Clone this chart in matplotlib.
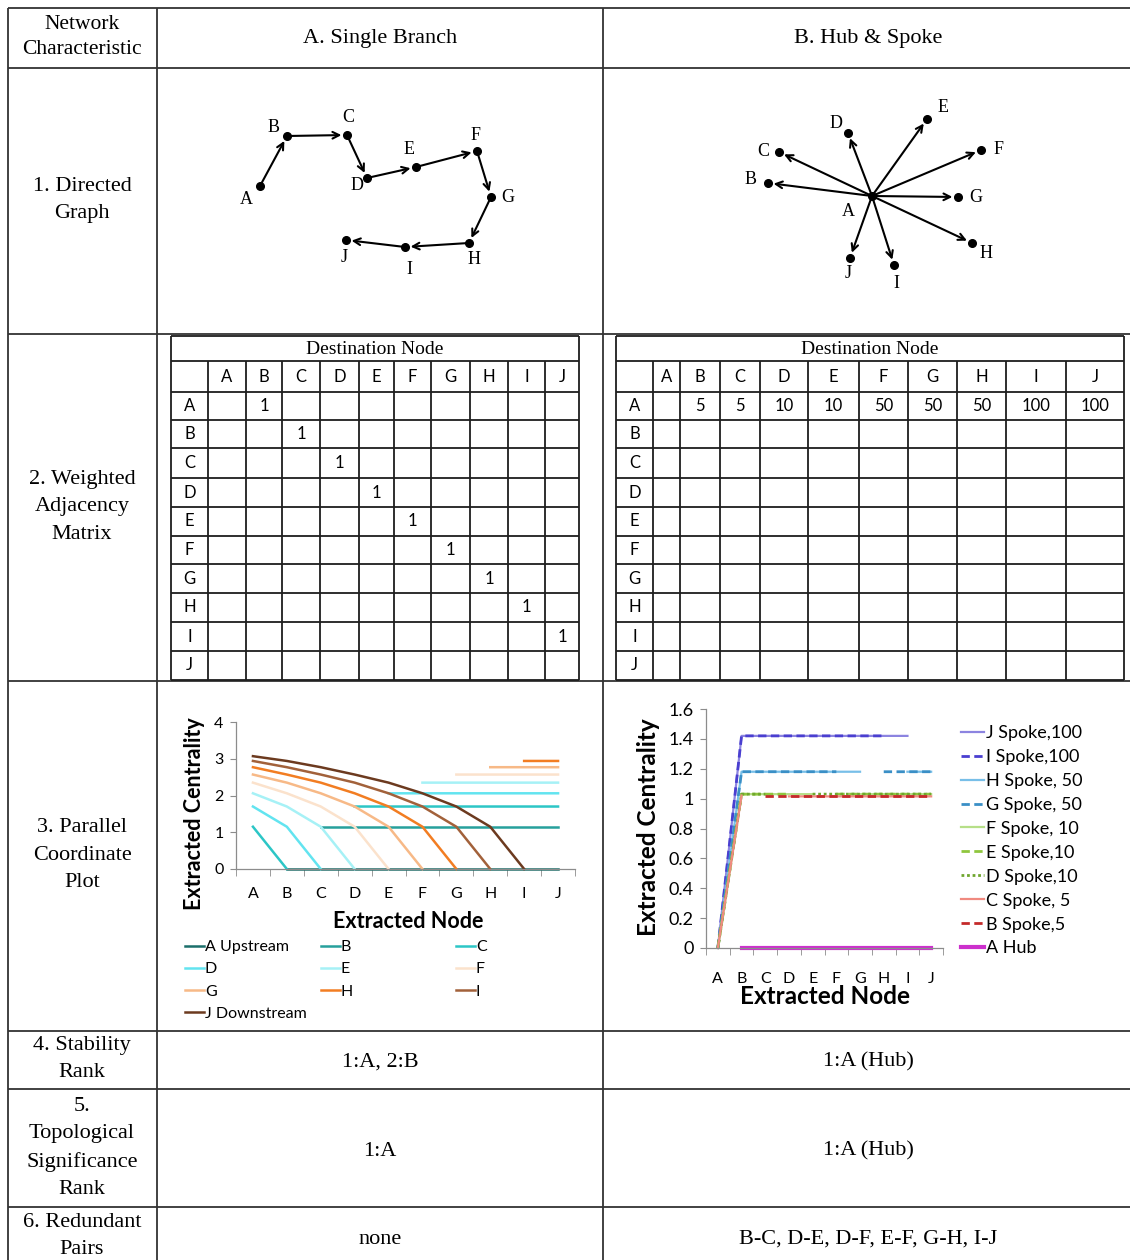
import numpy as np
import matplotlib
matplotlib.use('Agg')
import matplotlib.pyplot as plt

SERIF = 'Liberation Serif'
SANS = 'Lato'
W, H = 1130, 1260
nan = np.nan

nodes = list('ABCDEFGHIJ')

# ---- table text
row_titles = ['Network\nCharacteristic', '1. Directed\nGraph', '2. Weighted\nAdjacency\nMatrix',
              '3. Parallel\nCoordinate\nPlot', '4. Stability\nRank',
              '5.\nTopological\nSignificance\nRank', '6. Redundant\nPairs']
col_titles = ['A. Single Branch', 'B. Hub & Spoke']
stability_rank = ['1:A, 2:B', '1:A (Hub)']
topological_rank = ['1:A', '1:A (Hub)']
redundant_pairs = ['none', 'B-C, D-E, D-F, E-F, G-H, I-J']

# ---- directed graphs (node positions, pixels)
branch_x = [260, 287, 347, 367, 416, 477, 491, 469, 405, 346]
branch_y = [186, 136, 135, 178, 167, 151, 197, 243, 247, 240]
branch_lbl_x = [246, 274, 348, 357, 409, 476, 508, 474, 409, 344]
branch_lbl_y = [199, 128, 118, 185, 150, 136, 197, 259, 270, 258]
branch_edges = [('A', 'B'), ('B', 'C'), ('C', 'D'), ('D', 'E'), ('E', 'F'),
                ('F', 'G'), ('G', 'H'), ('H', 'I'), ('I', 'J')]

hub_x = [872, 768, 779, 848, 927, 981, 958, 972, 894, 850]
hub_y = [196, 183, 152, 133, 119, 150, 197, 243, 265, 258]
hub_lbl_x = [848, 751, 763, 836, 943, 999, 976, 986, 896, 848]
hub_lbl_y = [212, 180, 151, 123, 108, 150, 198, 253, 284, 274]
hub_edges = [('A', n) for n in nodes[1:]]

# ---- weighted adjacency matrices
branch_weights = [('A', 'B', 1), ('B', 'C', 1), ('C', 'D', 1), ('D', 'E', 1), ('E', 'F', 1),
                  ('F', 'G', 1), ('G', 'H', 1), ('H', 'I', 1), ('I', 'J', 1)]
hub_weights = [('A', 'B', 5), ('A', 'C', 5), ('A', 'D', 10), ('A', 'E', 10), ('A', 'F', 50),
               ('A', 'G', 50), ('A', 'H', 50), ('A', 'I', 100), ('A', 'J', 100)]

# ---- parallel coordinate plot, single branch
branch_names = ['A Upstream', 'B', 'C', 'D', 'E', 'F', 'G', 'H', 'I', 'J Downstream']
branch_colors = ['#1b6f6b', '#26a09c', '#2cc6c6', '#62e4f0', '#a6f1f6',
                 '#fbe2cc', '#f7b987', '#f27d22', '#a2613a', '#6c3a1f']
cent_A = [nan, 0, 0, 0, 0, 0, 0, 0, 0, 0]
cent_B = [0, nan, 1.15, 1.15, 1.15, 1.15, 1.15, 1.15, 1.15, 1.15]
cent_C = [1.15, 0, nan, 1.70, 1.70, 1.70, 1.70, 1.70, 1.70, 1.70]
cent_D = [1.70, 1.15, 0, nan, 2.06, 2.06, 2.06, 2.06, 2.06, 2.06]
cent_E = [2.06, 1.70, 1.15, 0, nan, 2.35, 2.35, 2.35, 2.35, 2.35]
cent_F = [2.35, 2.06, 1.70, 1.15, 0, nan, 2.57, 2.57, 2.57, 2.57]
cent_G = [2.57, 2.35, 2.06, 1.70, 1.15, 0, nan, 2.77, 2.77, 2.77]
cent_H = [2.77, 2.57, 2.35, 2.06, 1.70, 1.15, 0, nan, 2.94, 2.94]
cent_I = [2.94, 2.77, 2.57, 2.35, 2.06, 1.70, 1.15, 0, nan, 3.07]
cent_J = [3.07, 2.94, 2.77, 2.57, 2.35, 2.06, 1.70, 1.15, 0, nan]
branch_series = [cent_A, cent_B, cent_C, cent_D, cent_E, cent_F, cent_G, cent_H, cent_I, cent_J]

# ---- parallel coordinate plot, hub & spoke
hub_names = ['J Spoke,100', 'I Spoke,100', 'H Spoke, 50', 'G Spoke, 50', 'F Spoke, 10',
             'E Spoke,10', 'D Spoke,10', 'C Spoke, 5', 'B Spoke,5', 'A Hub']
hub_colors = ['#8c84e0', '#4a3fd0', '#78bfe8', '#3a8fc6', '#b6df88',
              '#8fc63e', '#6fa62e', '#f08a80', '#c42a2a', '#cc30cc']
hub_styles = ['-', '--', '-', '--', '-', '--', ':', '-', '--', '-']
hub_widths = [1.6, 2.0, 1.6, 2.0, 1.6, 2.0, 2.0, 1.6, 2.0, 3.0]
spoke_J = [0, 1.42, 1.42, 1.42, 1.42, 1.42, 1.42, 1.42, 1.42, nan]
spoke_I = [0, 1.42, 1.42, 1.42, 1.42, 1.42, 1.42, 1.42, nan, 1.42]
spoke_H = [0, 1.18, 1.18, 1.18, 1.18, 1.18, 1.18, nan, 1.18, 1.18]
spoke_G = [0, 1.18, 1.18, 1.18, 1.18, 1.18, nan, 1.18, 1.18, 1.18]
spoke_F = [0, 1.03, 1.03, 1.03, 1.03, nan, 1.03, 1.03, 1.03, 1.03]
spoke_E = [0, 1.03, 1.03, 1.03, nan, 1.03, 1.03, 1.03, 1.03, 1.03]
spoke_D = [0, 1.03, 1.03, nan, 1.03, 1.03, 1.03, 1.03, 1.03, 1.03]
spoke_C = [0, 1.02, nan, 1.015, 1.015, 1.015, 1.015, 1.015, 1.015, 1.015]
spoke_B = [0, nan, 1.015, 1.015, 1.015, 1.015, 1.015, 1.015, 1.015, 1.015]
hub_A = [nan, 0, 0, 0, 0, 0, 0, 0, 0, 0]
hub_series = [spoke_J, spoke_I, spoke_H, spoke_G, spoke_F, spoke_E, spoke_D, spoke_C, spoke_B, hub_A]

# ---- layout (pixels)
table_cols = [8, 157, 603]
table_rows = [8, 68, 334, 681, 1031, 1089, 1207]
row_title_y = [37, 200, 507, 855, 1059, 1148, 1236]
data_col_x = [380, 868]
mat_rows = [336, 361, 392, 420, 448, 478, 507, 536, 564, 593, 622, 651, 680]
mat_cols_left = [171, 208, 246, 282, 320, 359, 394, 431, 470, 508, 545, 579]
mat_cols_right = [616, 653, 680, 720, 760, 808, 859, 908, 957, 1006, 1066, 1124]


def fpos(x, y):
    return x / W, 1 - y / H


fig = plt.figure(figsize=(W / 100, H / 100), dpi=100)
base = fig.add_axes([0, 0, 1, 1])
base.set_xlim(0, W)
base.set_ylim(H, 0)
base.axis('off')

# table grid
line_col = '#333333'
base.hlines(table_rows, table_cols[0], W, color=line_col, lw=1.3)
base.vlines(table_cols, table_rows[0], H, color=line_col, lw=1.3)

for i, t in enumerate(row_titles):
    size = 15.5 if i == 0 else 16
    spacing = 1.47 if i == 0 else 1.58
    base.text(82, row_title_y[i], t, ha='center', va='center', family=SERIF,
              fontsize=size, linespacing=spacing)
for j, t in enumerate(col_titles):
    base.text(data_col_x[j], 39, t, ha='center', va='center', family=SERIF, fontsize=16)
for j in range(2):
    base.text(data_col_x[j], row_title_y[4] + 3, stability_rank[j], ha='center', va='center',
              family=SERIF, fontsize=16)
    base.text(data_col_x[j], row_title_y[5] + 3, topological_rank[j], ha='center', va='center',
              family=SERIF, fontsize=16)
    base.text(data_col_x[j], row_title_y[6] + 3, redundant_pairs[j], ha='center', va='center',
              family=SERIF, fontsize=16)


# directed graphs
def draw_graph(xs, ys, lx, ly, edges):
    pos = {n: (xs[k], ys[k]) for k, n in enumerate(nodes)}
    for a, b in edges:
        base.annotate('', xy=pos[b], xytext=pos[a],
                      arrowprops=dict(arrowstyle='->', color='black', lw=1.5,
                                      shrinkA=2, shrinkB=4, mutation_scale=12))
    base.plot(xs, ys, 'o', color='black', ms=5.5, ls='none')
    for k, n in enumerate(nodes):
        base.text(lx[k], ly[k], n, ha='center', va='center', family=SERIF, fontsize=13)


draw_graph(branch_x, branch_y, branch_lbl_x, branch_lbl_y, branch_edges)
draw_graph(hub_x, hub_y, hub_lbl_x, hub_lbl_y, hub_edges)


# adjacency matrices
def draw_matrix(cols, weights):
    x0, x1 = cols[0], cols[-1]
    base.hlines(mat_rows, x0, x1, color='#1e1e1e', lw=1.3)
    base.vlines([x0, x1], mat_rows[0], mat_rows[-1], color='#1e1e1e', lw=1.3)
    base.vlines(cols[1:-1], mat_rows[1], mat_rows[-1], color='#1e1e1e', lw=1.3)
    base.text((x0 + x1) / 2, (mat_rows[0] + mat_rows[1]) / 2 + 1, 'Destination Node',
              ha='center', va='center', family=SERIF, fontsize=14)
    cx = [(cols[k] + cols[k + 1]) / 2 for k in range(len(cols) - 1)]
    cy = [(mat_rows[k] + mat_rows[k + 1]) / 2 for k in range(len(mat_rows) - 1)]
    for k, n in enumerate(nodes):
        base.text(cx[k + 1], cy[1], n, ha='center', va='center', family=SANS, fontsize=12)
        base.text(cx[0], cy[k + 2], n, ha='center', va='center', family=SANS, fontsize=12)
    for src, dst, w in weights:
        base.text(cx[nodes.index(dst) + 1], cy[nodes.index(src) + 2], str(w),
                  ha='center', va='center', family=SANS, fontsize=12)


draw_matrix(mat_cols_left, branch_weights)
draw_matrix(mat_cols_right, hub_weights)


# parallel coordinate plots
def excel_axes(ax, ymax, ystep, tick_size, ytick_size, xpad):
    ax.set_facecolor('none')
    for s in ['top', 'right']:
        ax.spines[s].set_visible(False)
    for s in ['left', 'bottom']:
        ax.spines[s].set_color('#8c8c8c')
        ax.spines[s].set_linewidth(0.9)
    ax.set_xlim(-0.5, 9.5)
    ax.set_ylim(0, ymax)
    ax.set_xticks(range(10))
    ax.set_xticklabels(nodes, family=SANS, fontsize=tick_size)
    ax.set_xticks(np.arange(-0.5, 10, 1), minor=True)
    ax.tick_params(axis='x', which='major', length=0, pad=xpad)
    ax.tick_params(axis='x', which='minor', length=5, color='#8c8c8c')
    yt = np.arange(0, ymax + ystep / 2, ystep)
    ax.set_yticks(yt)
    ax.set_yticklabels([f'{v:g}' for v in yt], family=SANS, fontsize=ytick_size)
    ax.tick_params(axis='y', length=4, color='#8c8c8c', pad=5)


ax1 = fig.add_axes([236 / W, 1 - 869 / H, 339 / W, 147 / H])
excel_axes(ax1, 4, 1, 11.5, 11.5, 13)
xs = np.arange(10)
lines1 = []
for name, vals, col in zip(branch_names, branch_series, branch_colors):
    ln, = ax1.plot(xs, vals, color=col, lw=1.8, label=name, clip_on=False)
    lines1.append(ln)
ax1.set_ylabel('Extracted Centrality', family=SANS, fontsize=15.5, fontweight='bold')
ax1.yaxis.set_label_coords((205 - 236) / 339, 0.38)
ax1.set_xlabel('Extracted Node', family=SANS, fontsize=15.5, fontweight='bold')
ax1.xaxis.set_label_coords(0.507, (869 - 911) / 147)

# legend in three columns, filled row by row
legend_cols_x = [185, 321, 456]
legend_groups = [[0, 3, 6, 9], [1, 4, 7], [2, 5, 8]]
for lx, grp in zip(legend_cols_x, legend_groups):
    fig.legend(handles=[lines1[k] for k in grp], loc='upper left',
               bbox_to_anchor=fpos(lx, 940), frameon=False, borderpad=0, borderaxespad=0,
               handlelength=1.2, handletextpad=0.05, labelspacing=0.5,
               prop={'family': SANS, 'size': 11.5})

ax2 = fig.add_axes([706 / W, 1 - 948 / H, 237 / W, 239 / H])
excel_axes(ax2, 1.6, 0.2, 11.5, 13, 17)
for name, vals, col, st, lw in zip(hub_names, hub_series, hub_colors, hub_styles, hub_widths):
    ln, = ax2.plot(xs, vals, color=col, lw=lw, ls=st, label=name, clip_on=False)
    if st == '--':
        ln.set_dashes((3, 1.6))
    elif st == ':':
        ln.set_dashes((1, 1))
ax2.set_ylabel('Extracted Centrality', family=SANS, fontsize=17.5, fontweight='bold')
ax2.yaxis.set_label_coords((660 - 706) / 237, 0.506)
ax2.set_xlabel('Extracted Node', family=SANS, fontsize=17.5, fontweight='bold')
ax2.xaxis.set_label_coords(0.502, (948 - 985) / 239)
ax2.legend(loc='upper left', bbox_to_anchor=fpos(961, 725), bbox_transform=fig.transFigure,
           frameon=False, borderpad=0, borderaxespad=0, handlelength=1.3, handletextpad=0.1,
           labelspacing=0.44, prop={'family': SANS, 'size': 13})

fig.savefig('out.png', dpi=100)
